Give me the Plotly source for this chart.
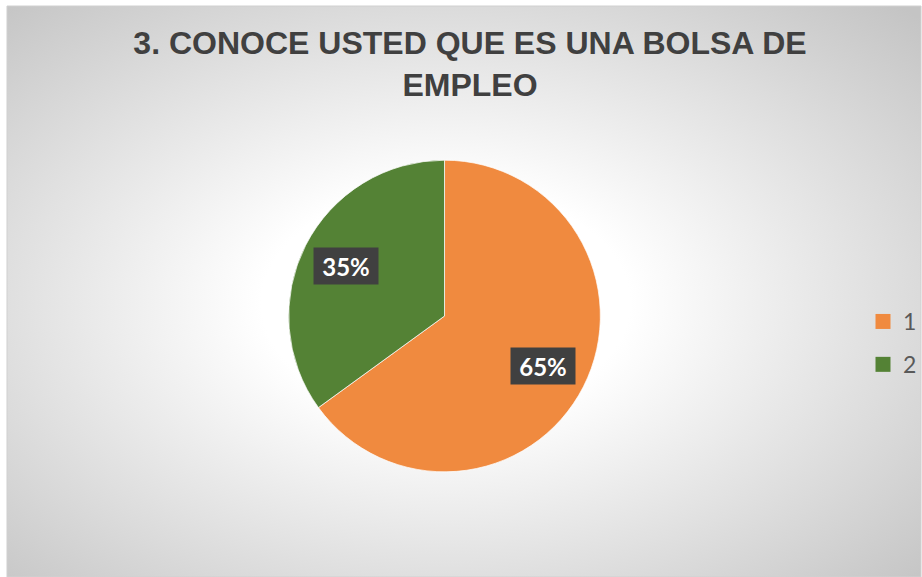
import base64, math
import plotly.graph_objects as go

categories = ["1", "2"]
values = [65, 35]
colors = ["#F08A3F", "#548235"]
title_text = "3. CONOCE USTED QUE ES UNA BOLSA DE<br>EMPLEO"

W, H = 922, 577

svg = """<svg xmlns='http://www.w3.org/2000/svg' width='915' height='571' preserveAspectRatio='none'>
<defs><radialGradient id='g' cx='0.48' cy='0.52' r='0.72'>
<stop offset='0' stop-color='#FFFFFF'/><stop offset='0.28' stop-color='#FFFFFF'/>
<stop offset='1' stop-color='#C4C4C4'/></radialGradient></defs>
<rect width='915' height='571' fill='url(#g)'/></svg>"""
bg_src = "data:image/svg+xml;base64," + base64.b64encode(svg.encode()).decode()

# pie geometry (pixels)
cx, cy, R = 445, 316, 156
dom_x = [(cx - R) / W, (cx + R) / W]
dom_y = [1 - (cy + R) / H, 1 - (cy - R) / H]

fig = go.Figure()
fig.add_trace(go.Pie(
    labels=categories, values=values, sort=False, direction="clockwise", rotation=0,
    marker=dict(colors=colors, line=dict(color="rgba(255,255,255,0.7)", width=1)),
    textinfo="none", hoverinfo="label+percent", showlegend=False,
    domain=dict(x=dom_x, y=dom_y),
))

# legend entries
for cat, col in zip(categories, colors):
    fig.add_trace(go.Scatter(
        x=[None], y=[None], mode="markers", name=cat, legendgroup=cat,
        marker=dict(symbol="square", size=15, color=col), showlegend=True,
    ))

# data labels at slice mid-angles
total = sum(values)
start = 0.0
annotations = []
for v in values:
    frac = v / total
    mid = (start + frac / 2) * 2 * math.pi
    start += frac
    rr = 0.71 * R
    px = cx + rr * math.sin(mid)
    py = cy - rr * math.cos(mid)
    annotations.append(dict(
        x=px / W, y=1 - py / H, xref="paper", yref="paper",
        text="<b>%d%%</b>" % round(frac * 100), showarrow=False,
        font=dict(family="Lato", size=24, color="white"),
        bgcolor="#404040", borderpad=0, width=64, height=36, align="center", valign="middle",
    ))

fig.update_layout(
    width=W, height=H,
    margin=dict(l=0, r=0, t=0, b=0),
    paper_bgcolor="white", plot_bgcolor="rgba(0,0,0,0)",
    xaxis=dict(visible=False), yaxis=dict(visible=False),
    title=dict(text="<b>" + title_text + "</b>", x=470 / W, xanchor="center",
               y=1 - 54 / H, yanchor="middle",
               font=dict(family="Liberation Sans", size=32, color="#404040")),
    legend=dict(x=0.937, y=1 - 343 / H, xanchor="left", yanchor="middle",
                font=dict(family="Lato", size=23, color="#595959"),
                tracegroupgap=10, bgcolor="rgba(0,0,0,0)"),
    images=[dict(source=bg_src, xref="paper", yref="paper", x=7 / W, y=1 - 6 / H,
                 sizex=1 - 7 / W, sizey=1 - 6 / H, xanchor="left", yanchor="top",
                 sizing="stretch", layer="below")],
    shapes=[dict(type="rect", xref="paper", yref="paper", x0=7 / W, x1=1, y0=0, y1=1 - 6 / H,
                 line=dict(color="#D0D0D0", width=1), fillcolor="rgba(0,0,0,0)", layer="below")],
    annotations=annotations,
)

fig.write_html("out.html", config={"displayModeBar": False},
               post_script="document.body.style.margin='0';")
